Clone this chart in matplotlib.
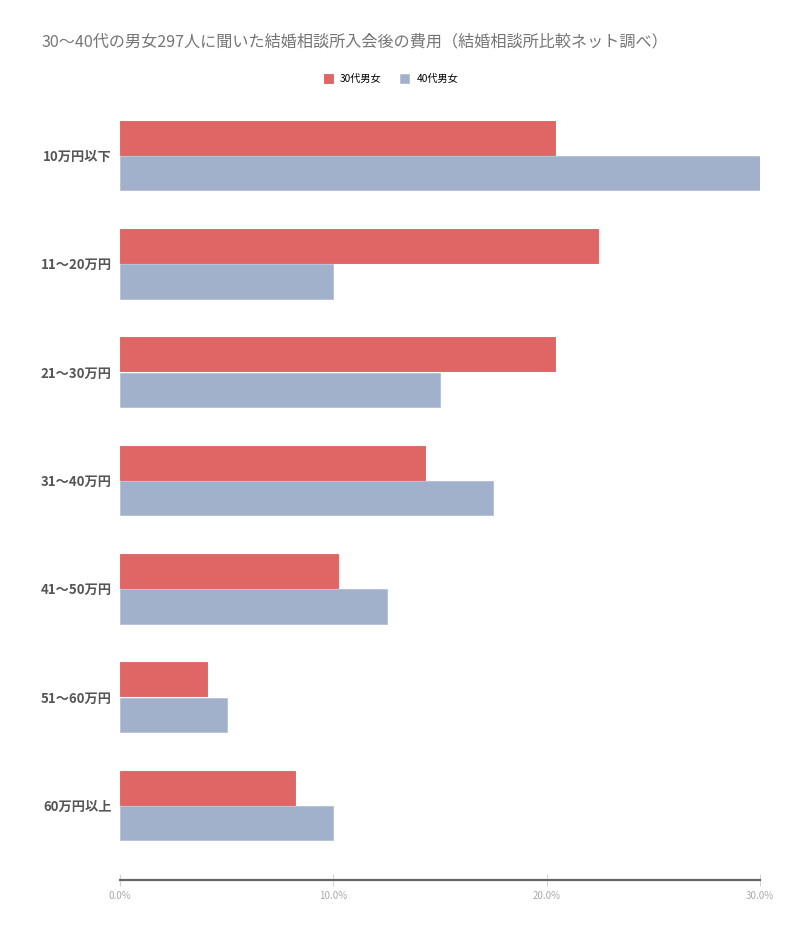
#結婚相談所入会後の費用 30代と40代の比較
import matplotlib.pyplot as plt
import numpy as np

plt.rcParams['font.family'] = ['Noto Sans CJK JP', 'DejaVu Sans']

#data
categories = ["10万円以下", "11～20万円", "21～30万円", "31～40万円", "41～50万円", "51～60万円", "60万円以上"]
age30 = [20.4, 22.4, 20.4, 14.3, 10.2, 4.1, 8.2]
age40 = [30.0, 10.0, 15.0, 17.5, 12.5, 5.0, 10.0]
xticks = [0, 10, 20, 30]

fig = plt.figure(figsize=(8, 9.41), dpi=100)
ax = fig.add_axes([0.15, 1 - 880 / 941, 0.80, (880 - 101) / 941])

y = np.arange(len(categories))
h = 0.315
ax.barh(y - h / 2 - 0.006, age30, height=h, color="#e06666", edgecolor="#dd5f5f", linewidth=0.6, label="30代男女")
ax.barh(y + h / 2 + 0.006, age40, height=h, color="#a2b1cb", edgecolor="#b4c0d6", linewidth=0.6, label="40代男女")

ax.set_ylim(6.688, -0.503)
ax.set_xlim(0, 30)

ax.set_yticks(y)
ax.set_yticklabels(categories, fontsize=9.5, fontweight="bold", color="#555555")
ax.tick_params(axis="y", length=0, pad=6)

ax.set_xticks(xticks)
ax.set_xticklabels([f"{v:.1f}%" for v in xticks], fontsize=7, color="#aaaaaa")
ax.tick_params(axis="x", direction="inout", length=8, width=0.6, color="#cccccc", pad=4)

for s in ["top", "right", "left"]:
    ax.spines[s].set_visible(False)
ax.spines["bottom"].set_color("#666666")
ax.spines["bottom"].set_linewidth(1.6)

#title and legend
fig.text(42 / 800, 1 - 42 / 941, "30～40代の男女297人に聞いた結婚相談所入会後の費用（結婚相談所比較ネット調べ）",
         fontsize=11.6, color="#757575", va="center", ha="left")
fig.legend(loc="center", bbox_to_anchor=(391 / 800, 1 - 79 / 941), ncol=2, frameon=False,
           fontsize=7.3, handlelength=0.9, handleheight=0.9, columnspacing=1.8, handletextpad=0.7)

plt.savefig("out.png", dpi=100)
